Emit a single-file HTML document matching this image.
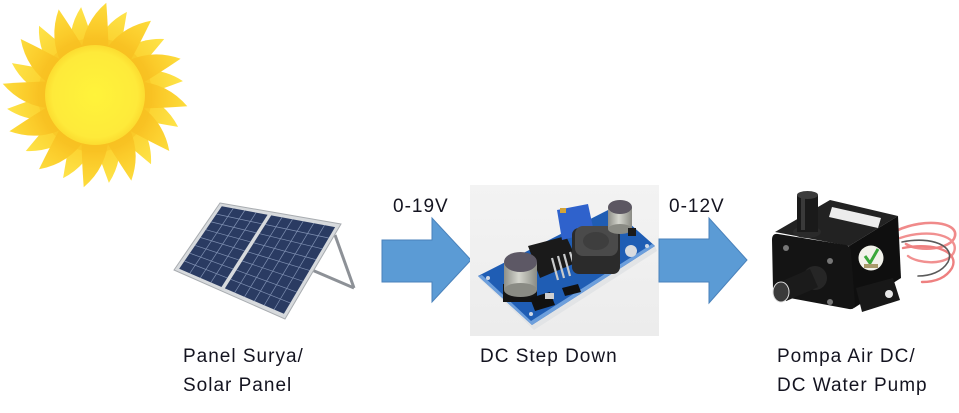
<!DOCTYPE html>
<html><head><meta charset="utf-8"><style>
html,body{margin:0;padding:0;background:#fff;}
svg{display:block;}
text{font-family:"Liberation Sans",sans-serif;font-size:19px;letter-spacing:1px;fill:#141420;}
</style></head><body>
<svg id="s" width="959" height="413" viewBox="0 0 959 413" xmlns="http://www.w3.org/2000/svg">
<defs>
<radialGradient id="rayg" gradientUnits="userSpaceOnUse" cx="95" cy="95" r="93">
<stop offset="0.5" stop-color="#f6b91d"/><stop offset="0.72" stop-color="#fbcb2a"/><stop offset="1" stop-color="#fddc3c"/></radialGradient>
<radialGradient id="rayg2" gradientUnits="userSpaceOnUse" cx="95" cy="95" r="90">
<stop offset="0.55" stop-color="#fbd02c"/><stop offset="1" stop-color="#fee44a"/></radialGradient>
<radialGradient id="core" cx="0.5" cy="0.5" r="0.5">
<stop offset="0" stop-color="#fff33a"/><stop offset="0.85" stop-color="#feea3a"/><stop offset="1" stop-color="#fcdc30"/></radialGradient>
<linearGradient id="boxg" x1="0" y1="0" x2="0" y2="1"><stop offset="0" stop-color="#f3f3f3"/><stop offset="1" stop-color="#ececec"/></linearGradient>
<linearGradient id="capg" x1="0" y1="0" x2="1" y2="0"><stop offset="0" stop-color="#8e8f88"/><stop offset="0.45" stop-color="#d4d5cd"/><stop offset="1" stop-color="#8a8b84"/></linearGradient>
</defs>

<!-- Sun -->
<g id="rays"></g>
<circle cx="95" cy="95" r="57" fill="#f8c323" opacity="0.6"/>
<circle cx="95" cy="95" r="50" fill="url(#core)"/>

<!-- Solar panel -->
<g id="panel">
<line x1="335" y1="235" x2="354" y2="288" stroke="#8d9197" stroke-width="3"/>
<line x1="312" y1="270" x2="354" y2="288" stroke="#8d9197" stroke-width="3"/>
<polygon points="220,203 341,224 285,319 174,270" fill="#d7dadd" stroke="#a8acb0" stroke-width="1"/>
<g id="cells"></g>
</g>

<!-- Arrow 1 -->
<polygon points="382,240 432,240 432,218 471,260 432,302 432,282 382,282" fill="#5b9bd5" stroke="#4a82bb" stroke-width="1"/>
<text x="393" y="212">0-19V</text>

<!-- DC step down -->
<rect x="470" y="185" width="189" height="151" fill="url(#boxg)"/>
<polygon points="480,279 534,330 657,251 655,246 532,325 478,276" fill="#e2e4e6"/>
<polygon points="478,276 612,208 655,246 532,325" fill="#1f5db4"/>
<polygon points="478,276 532,325 655,246 652,244 531,321 482,275" fill="#6d9fdc"/>
<circle cx="488" cy="278" r="2" fill="#cfd7e4"/><circle cx="531" cy="314" r="2" fill="#cfd7e4"/><circle cx="647" cy="246" r="2" fill="#cfd7e4"/>
<!-- IC -->
<polygon points="528,246 566,236 578,262 540,278" fill="#1a1a1a"/>
<g stroke="#c9cbcc" stroke-width="2.2"><line x1="552" y1="258" x2="558" y2="280"/><line x1="558" y1="256" x2="564" y2="278"/><line x1="564" y1="254" x2="570" y2="276"/><line x1="570" y1="252" x2="576" y2="272"/></g>
<!-- trimmer -->
<polygon points="557,210 588,204 594,232 562,240" fill="#2f62cc"/>
<rect x="560" y="208" width="6" height="5" fill="#d4a437"/>
<!-- inductor -->
<rect x="572" y="228" width="48" height="46" rx="7" fill="#2b2b2b"/>
<rect x="575" y="226" width="43" height="30" rx="8" fill="#4a4a4a"/>
<ellipse cx="596" cy="241" rx="13" ry="9" fill="#3e3e3e"/>
<!-- right capacitor -->
<rect x="608" y="207" width="24" height="22" fill="url(#capg)"/>
<ellipse cx="620" cy="229" rx="12" ry="5" fill="#8a8b84"/>
<ellipse cx="620" cy="207" rx="12" ry="7" fill="#5c5762"/>
<rect x="628" y="228" width="8" height="8" fill="#1a1a1a"/>
<circle cx="631" cy="251" r="6" fill="#d8dbe0"/>
<!-- left capacitor -->
<rect x="503" y="284" width="34" height="18" fill="#151515"/>
<rect x="504" y="262" width="33" height="28" fill="url(#capg)"/>
<ellipse cx="520.5" cy="290" rx="16.5" ry="7" fill="#8a8b84"/>
<ellipse cx="520.5" cy="262" rx="16.5" ry="10" fill="#5d5865"/>
<!-- small smd -->
<polygon points="530,298 550,292 555,305 535,311" fill="#111"/>
<rect x="545" y="293" width="9" height="6" fill="#cfcfcf"/>
<polygon points="562,288 578,284 581,292 565,296" fill="#111"/>

<!-- Arrow 2 -->
<polygon points="659,239 709,239 709,218 747,260 709,303 709,282 659,282" fill="#5b9bd5" stroke="#4a82bb" stroke-width="1"/>
<text x="669" y="212">0-12V</text>

<!-- Pump -->
<g fill="none" stroke-linecap="round">
<path d="M898,230 C925,218 958,222 955,236 C952,250 918,252 906,244" stroke="#f08a8a" stroke-width="2.6"/>
<path d="M900,238 C930,228 960,236 954,252 C948,266 918,264 908,256" stroke="#f19090" stroke-width="2.4"/>
<path d="M903,248 C935,242 960,252 952,268 C946,278 935,282 922,282" stroke="#ee8080" stroke-width="2.4"/>
<path d="M902,242 C932,236 956,246 948,262 C942,272 930,276 918,276" stroke="#5a5a5a" stroke-width="1.6"/>
</g>
<polygon points="775,232 830,200 898,216 849,246" fill="#222"/>
<polygon points="832,207 881,218 878,228 829,217" fill="#ececec"/>
<polygon points="849,246 898,216 901,278 854,308" fill="#0f0f0f"/>
<path d="M778,234 L846,245 Q851,246 851,252 L855,304 Q855,310 849,309 L779,296 Q773,295 773,289 L772,240 Q772,233 778,234 Z" fill="#141414"/>
<polygon points="856,288 893,278 900,300 862,312" fill="#181818"/>
<circle cx="889" cy="294" r="4" fill="#e8e8e8"/>
<circle cx="871" cy="258" r="12.5" fill="#f2f2ea"/>
<path d="M865,256 L870,263 L878,249" stroke="#3aa83a" stroke-width="3" fill="none"/>
<rect x="864" y="264" width="14" height="4" fill="#a89a6a"/>
<ellipse cx="807" cy="232" rx="14" ry="6" fill="#2a2a2a"/>
<rect x="797" y="195" width="21" height="37" fill="#1a1a1a"/>
<rect x="801" y="196" width="4" height="34" fill="#3a3a3a"/>
<ellipse cx="807.5" cy="195" rx="10.5" ry="4" fill="#3c3c3c"/>
<circle cx="786" cy="248" r="3" fill="#777"/><circle cx="830" cy="261" r="3" fill="#777"/><circle cx="830" cy="302" r="3" fill="#777"/>
<circle cx="815" cy="278" r="12" fill="#262626"/>
<line x1="782" y1="292" x2="814" y2="278" stroke="#1b1b1b" stroke-width="20"/>
<ellipse cx="781" cy="292" rx="8" ry="10" fill="#3a3a3a" stroke="#ddd" stroke-width="1"/>

<!-- Labels -->
<text x="183" y="362">Panel Surya/</text>
<text x="183" y="391">Solar Panel</text>
<text x="480" y="362">DC Step Down</text>
<text x="777" y="362">Pompa Air DC/</text>
<text x="777" y="391">DC Water Pump</text>
</svg>
<script>
(function(){
var NS="http://www.w3.org/2000/svg";
var g=document.getElementById('rays');
var d=Math.PI/180;
function p(a,r){return [(95+r*Math.cos(a*d)).toFixed(1),(95+r*Math.sin(a*d)).toFixed(1)];}
function ray(a,r0,R,w,t,fill){
 var b1=p(a-w,r0),b2=p(a+w,r0),tip=p(a+t,R);
 var c1=p(a-w*0.6+t*0.2,r0+(R-r0)*0.6),c2=p(a+w*0.45+t*0.5,r0+(R-r0)*0.45);
 var e=document.createElementNS(NS,'path');
 e.setAttribute('d','M'+b1+' Q'+c1+' '+tip+' Q'+c2+' '+b2+' Z');
 e.setAttribute('fill',fill);
 g.appendChild(e);
}
for(var i=0;i<12;i++){ray(i*30-75,44,89,17,6,'url(#rayg2)');}
for(var i=0;i<12;i++){ray(i*30-90,44,93,18,7,'url(#rayg)');}
// solar cells
var c=document.getElementById('cells');
var TL=[220,203],TR=[341,224],BR=[285,319],BL=[174,270];
function P(u,v){var x=(1-u)*(1-v)*TL[0]+u*(1-v)*TR[0]+u*v*BR[0]+(1-u)*v*BL[0];
 var y=(1-u)*(1-v)*TL[1]+u*(1-v)*TR[1]+u*v*BR[1]+(1-u)*v*BL[1];return [x.toFixed(1),y.toFixed(1)];}
function quad(u0,u1,v0,v1,fill){var e=document.createElementNS(NS,'polygon');
 e.setAttribute('points',[P(u0,v0),P(u1,v0),P(u1,v1),P(u0,v1)].join(' '));e.setAttribute('fill',fill);c.appendChild(e);}
function line(a,b){var e=document.createElementNS(NS,'line');e.setAttribute('x1',a[0]);e.setAttribute('y1',a[1]);e.setAttribute('x2',b[0]);e.setAttribute('y2',b[1]);e.setAttribute('stroke','#7f90b2');e.setAttribute('stroke-width','0.7');c.appendChild(e);}
var panels=[[0.03,0.41,4],[0.44,0.97,6]];
panels.forEach(function(pn){
 var u0=pn[0],u1=pn[1],n=pn[2],v0=0.04,v1=0.96,rows=8;
 quad(u0,u1,v0,v1,'#2a3b62');
 for(var k=1;k<n;k++){var u=u0+(u1-u0)*k/n;line(P(u,v0),P(u,v1));}
 for(var k=1;k<rows;k++){var v=v0+(v1-v0)*k/rows;line(P(u0,v),P(u1,v));}
});
})();
</script>
</body></html>
